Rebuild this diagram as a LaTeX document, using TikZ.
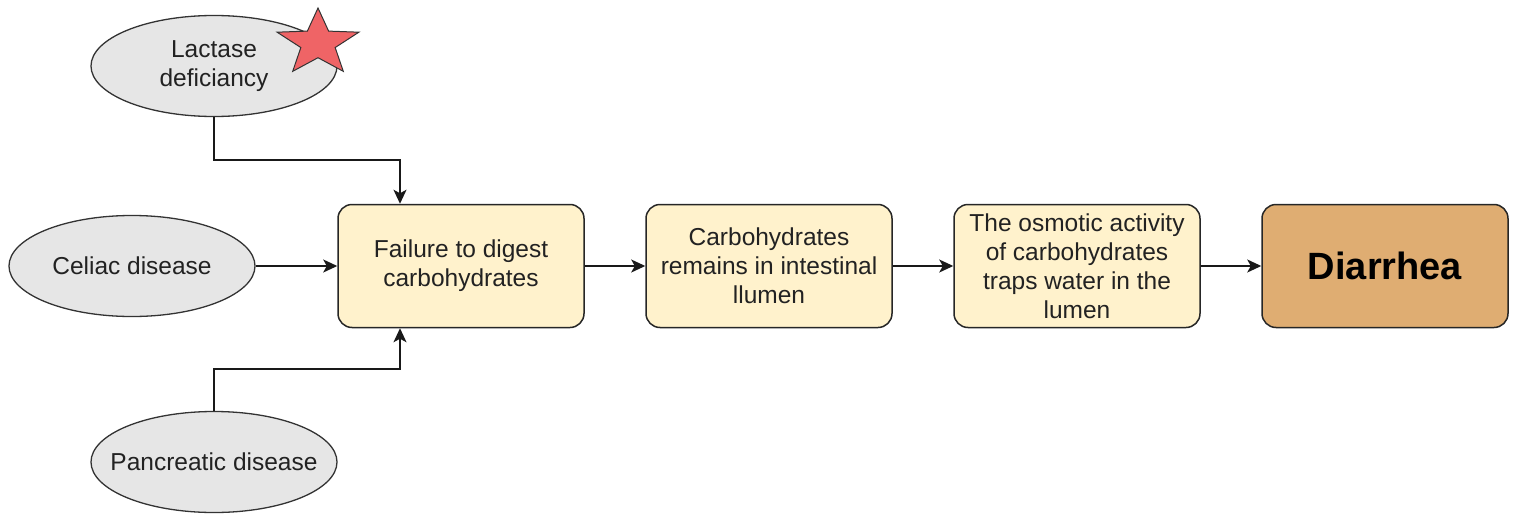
\documentclass[tikz,border=0pt]{standalone}
\usepackage{fontspec}
\setmainfont{Liberation Sans}
\usetikzlibrary{arrows.meta,shapes.geometric}
\definecolor{causefill}{HTML}{E6E6E6}
\definecolor{stepfill}{HTML}{FFF2CC}
\definecolor{endfill}{HTML}{DFAD72}
\definecolor{starfill}{HTML}{EF6466}
\definecolor{inkgray}{HTML}{222222}
\begin{document}
\begin{tikzpicture}[x=1pt,y=-1pt,
  cause/.style={ellipse,draw=black!80,fill=causefill,line width=1.3pt,
    minimum width=246pt,minimum height=101pt,inner sep=0pt},
  causetext/.style={align=center,inner sep=0pt,text=inkgray,
    font=\fontsize{24.5}{29}\selectfont},
  stepbox/.style={rectangle,rounded corners=14pt,draw=black!85,fill=stepfill,
    line width=1.5pt,minimum width=246pt,minimum height=123pt,inner sep=0pt,
    align=center,text=inkgray,font=\fontsize{24.5}{29}\selectfont},
  endbox/.style={stepbox,fill=endfill,text=black,font=\fontsize{38}{44}\selectfont\bfseries},
  link/.style={line width=1.5pt,draw=black!90,
    -{Stealth[length=14pt,width=13pt,inset=3.5pt]}}
]
\useasboundingbox (0,0) rectangle (1518,514);

% causes (the ellipse keeps its size; the text sits on it as a centred label)
\node[cause,label={[causetext]center:Lactase\\deficiancy}] (lac) at (214,66) {};
\node[cause,label={[causetext]center:Celiac disease}] (cel) at (132,266) {};
\node[cause,label={[causetext]center:Pancreatic disease}] (pan) at (214,462) {};

% marker on the lactase cause
\begin{scope}[shift={(318,43)},x=43pt,y=35pt]
  \draw[fill=starfill,draw=black!80,line width=1pt,line join=miter]
    (90:1) -- (126:0.42) -- (162:1) -- (198:0.42) -- (234:1) -- (270:0.42)
    -- (306:1) -- (342:0.42) -- (18:1) -- (54:0.42) -- cycle;
\end{scope}

% chain of steps
\node[stepbox] (fail) at (461,266) {Failure to digest\\carbohydrates};
\node[stepbox] (remain) at (769,266) {Carbohydrates\\remains in intestinal\\llumen};
\node[stepbox] (osmo) at (1077,266) {The osmotic activity\\of carbohydrates\\traps water in the\\lumen};
\node[endbox] (diar) at (1385,266) {Diarrhea};

% connectors
\draw[link] (lac.south) -- ++(0,43) -| ([xshift=-61pt]fail.north);
\draw[link] (pan.north) -- ++(0,-42) -| ([xshift=-61pt]fail.south);
\draw[link] (cel.east) -- (fail.west);
\draw[link] (fail.east) -- (remain.west);
\draw[link] (remain.east) -- (osmo.west);
\draw[link] (osmo.east) -- (diar.west);
\end{tikzpicture}
\end{document}
